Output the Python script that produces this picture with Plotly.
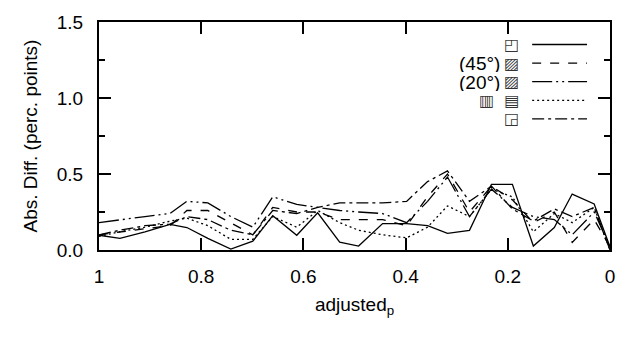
import plotly.graph_objects as go

# adjusted_p grid
adj_p = [1.0, 0.959, 0.910, 0.861, 0.828, 0.787, 0.742, 0.699, 0.660, 0.613,
         0.572, 0.529, 0.492, 0.445, 0.398, 0.357, 0.318, 0.275, 0.232, 0.191,
         0.150, 0.109, 0.074, 0.031, 0.0]

s_base = [0.097, 0.077, 0.12, 0.168, 0.148, 0.077, 0.006, 0.058, 0.226, 0.097,
          0.245, 0.052, 0.026, 0.174, 0.174, 0.161, 0.11, 0.129, 0.432, 0.432,
          0.026, 0.148, 0.368, 0.303, 0.02]
s_45 = [0.10, 0.12, 0.14, 0.16, 0.26, 0.26, 0.18, 0.10, 0.28, 0.25,
        0.25, 0.20, 0.20, 0.20, 0.16, 0.35, 0.50, 0.25, 0.42, 0.33,
        0.18, 0.25, 0.05, 0.20, 0.02]
s_20 = [0.18, 0.20, 0.22, 0.24, 0.32, 0.31, 0.22, 0.15, 0.35, 0.30,
        0.28, 0.26, 0.25, 0.24, 0.18, 0.32, 0.48, 0.22, 0.40, 0.28,
        0.22, 0.20, 0.10, 0.25, 0.02]
s_dot = [0.09, 0.12, 0.15, 0.19, 0.21, 0.16, 0.07, 0.07, 0.22, 0.15,
         0.26, 0.18, 0.13, 0.10, 0.08, 0.15, 0.29, 0.22, 0.40, 0.35,
         0.12, 0.24, 0.18, 0.28, 0.0]
s_last = [0.10, 0.13, 0.16, 0.17, 0.22, 0.20, 0.13, 0.10, 0.26, 0.24,
          0.28, 0.31, 0.31, 0.31, 0.32, 0.45, 0.52, 0.32, 0.42, 0.27,
          0.19, 0.27, 0.22, 0.28, 0.0]

series = [s_base, s_45, s_20, s_dot, s_last]
legend_text = ["", "(45°)", "(20°)", "", ""]
legend_icons = ["◰", "▨", "▨", "▥  ▤", "◲"]
trace_names = ["◰", "(45°) ▨", "(20°) ▨", "▥ ▤", "◲"]
dashes = ["solid", "dash", "20px,4px,2px,4px,2px,4px", "2px,3px", "12px,4px,3px,4px"]

x_ticks = [1, 0.8, 0.6, 0.4, 0.2, 0]
x_ticklabels = ["1", "0.8", "0.6", "0.4", "0.2", "0"]
y_ticks = [0.0, 0.5, 1.0, 1.5]
y_ticklabels = ["0.0", "0.5", "1.0", "1.5"]

FONT = "Liberation Sans, Arial, Helvetica, sans-serif"
SYM = "DejaVu Sans"

fig = go.Figure()
for ys, nm, d in zip(series, trace_names, dashes):
    fig.add_trace(go.Scatter(x=adj_p, y=ys, mode="lines", name=nm,
                             line=dict(color="black", width=1.3, dash=d),
                             showlegend=False))

# manual legend (text/symbols on left, line sample on right)
row_y = [40, 59, 78, 97, 116]
for i in range(5):
    yp = 1 - (row_y[i] - 17) / (250 - 17)
    fig.add_shape(type="line", xref="paper", yref="paper",
                  x0=(533 - 99) / 512, x1=(588 - 99) / 512, y0=yp, y1=yp,
                  line=dict(color="black", width=1.3, dash=dashes[i]))
    fig.add_annotation(xref="paper", yref="paper", x=(521 - 99) / 512, y=yp,
                       text=legend_icons[i], showarrow=False, xanchor="right",
                       yanchor="middle", borderpad=0, height=17,
                       font=dict(family=SYM, size=16, color="rgba(30,30,30,0.92)"))
    if legend_text[i]:
        fig.add_annotation(xref="paper", yref="paper", x=(502 - 99) / 512, y=yp,
                           text=legend_text[i], showarrow=False, xanchor="right",
                           yanchor="middle", borderpad=0, height=18,
                           font=dict(family=FONT, size=19, color="black"))

fig.update_layout(
    width=627, height=345,
    margin=dict(l=99, r=16, t=17, b=95),
    paper_bgcolor="white", plot_bgcolor="white",
    font=dict(family=FONT, size=19, color="black"),
    xaxis=dict(range=[1, 0], tickvals=x_ticks, ticktext=x_ticklabels,
               ticks="inside", ticklen=12, tickwidth=1.5, tickcolor="black",
               showline=True, linewidth=2, linecolor="black", mirror="allticks",
               showgrid=False, zeroline=False, ticklabelstandoff=8,
               title=dict(text="adjusted<sub>p</sub>", standoff=12,
                          font=dict(size=19))),
    yaxis=dict(range=[0, 1.5], tickvals=y_ticks, ticktext=y_ticklabels,
               ticks="inside", ticklen=12, tickwidth=1.5, tickcolor="black",
               minor=dict(tickvals=[0.25, 0.75, 1.25], ticks="inside", ticklen=6,
                          tickwidth=1.5, tickcolor="black"),
               showline=True, linewidth=2, linecolor="black", mirror="allticks",
               showgrid=False, zeroline=False, ticklabelstandoff=10,
               title=dict(text="Abs. Diff. (perc. points)", standoff=14,
                          font=dict(size=19))),
)

fig.write_html("out.html", config={"displayModeBar": False},
               post_script="document.body.style.margin='0';")
